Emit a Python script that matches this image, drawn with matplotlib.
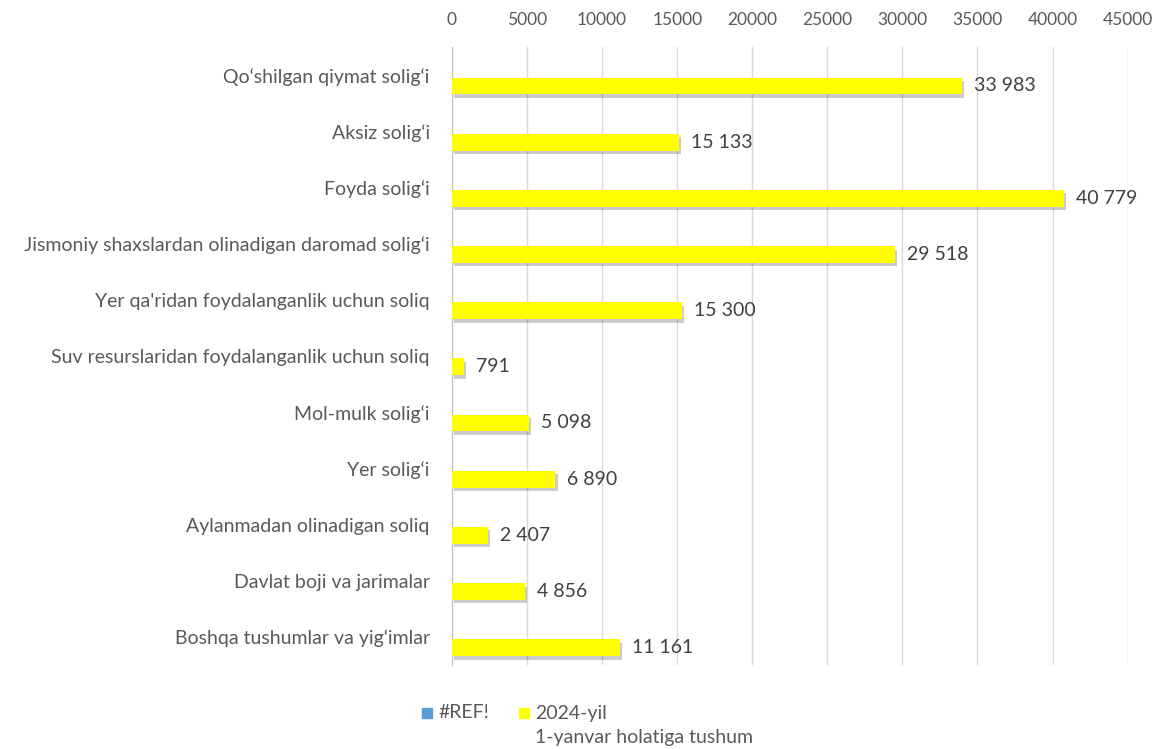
import matplotlib.pyplot as plt
import matplotlib.patheffects as pe
from matplotlib.patches import Rectangle
import numpy as np

categories = [
    "Qo\u2018shilgan qiymat solig\u2018i",
    "Aksiz solig\u2018i",
    "Foyda solig\u2018i",
    "Jismoniy shaxslardan olinadigan daromad solig\u2018i",
    "Yer qa'ridan foydalanganlik uchun soliq",
    "Suv resurslaridan foydalanganlik uchun soliq",
    "Mol-mulk solig\u2018i",
    "Yer solig\u2018i",
    "Aylanmadan olinadigan soliq",
    "Davlat boji va jarimalar",
    "Boshqa tushumlar va yig\u2018imlar",
]
values_2024 = [33983, 15133, 40779, 29518, 15300, 791, 5098, 6890, 2407, 4856, 11161]
x_ticks = list(range(0, 45001, 5000))

grey = "#595959"
plt.rcParams['font.family'] = ['Lato', 'DejaVu Sans']

fig = plt.figure(figsize=(11.53, 7.49), dpi=100)
ax = fig.add_axes([0.392, 0.112, 0.586, 0.825])

y = np.arange(len(categories))
bars = ax.barh(y + 0.19, values_2024, height=0.3, color="#ffff00", zorder=3)
for b in bars:
    b.set_path_effects([pe.SimplePatchShadow(offset=(1.5, -2.5), shadow_rgbFace="#000000", alpha=0.2),
                        pe.Normal()])

for yi, v in zip(y, values_2024):
    ax.text(v + 800, yi + 0.19, f"{v:,}".replace(",", " "), va="center", ha="left",
            fontsize=14, color="#404040")

ax.set_xlim(0, 45000)
ax.set_ylim(len(categories) - 0.5, -0.5)
ax.set_xticks(x_ticks)
ax.set_xticklabels([str(t) for t in x_ticks])
ax.xaxis.tick_top()
ax.tick_params(axis="x", length=0, pad=14, labelsize=12.5, labelcolor=grey)
ax.set_yticks(y)
ax.set_yticklabels(categories)
ax.tick_params(axis="y", length=0, pad=16, labelsize=14, labelcolor=grey)
ax.grid(axis="x", color="#d9d9d9", linewidth=1, zorder=0)
for s in ["top", "right", "bottom"]:
    ax.spines[s].set_visible(False)
ax.spines["left"].set_color("#bfbfbf")

# legend
fig.patches.append(Rectangle((422 / 1153, 1 - 718 / 749), 10 / 1153, 10 / 749,
                             transform=fig.transFigure, color="#5b9bd5", figure=fig))
fig.text(438 / 1153, 1 - 713 / 749, "#REF!", fontsize=14, color=grey, va="center")
fig.patches.append(Rectangle((519 / 1153, 1 - 718 / 749), 10 / 1153, 10 / 749,
                             transform=fig.transFigure, color="#ffff00", figure=fig))
fig.text(535 / 1153, 1 - 713 / 749, "2024-yil", fontsize=14, color=grey, va="center")
fig.text(535 / 1153, 1 - 738 / 749, "1-yanvar holatiga tushum", fontsize=14, color=grey, va="center")

fig.savefig("out.png", dpi=100)
